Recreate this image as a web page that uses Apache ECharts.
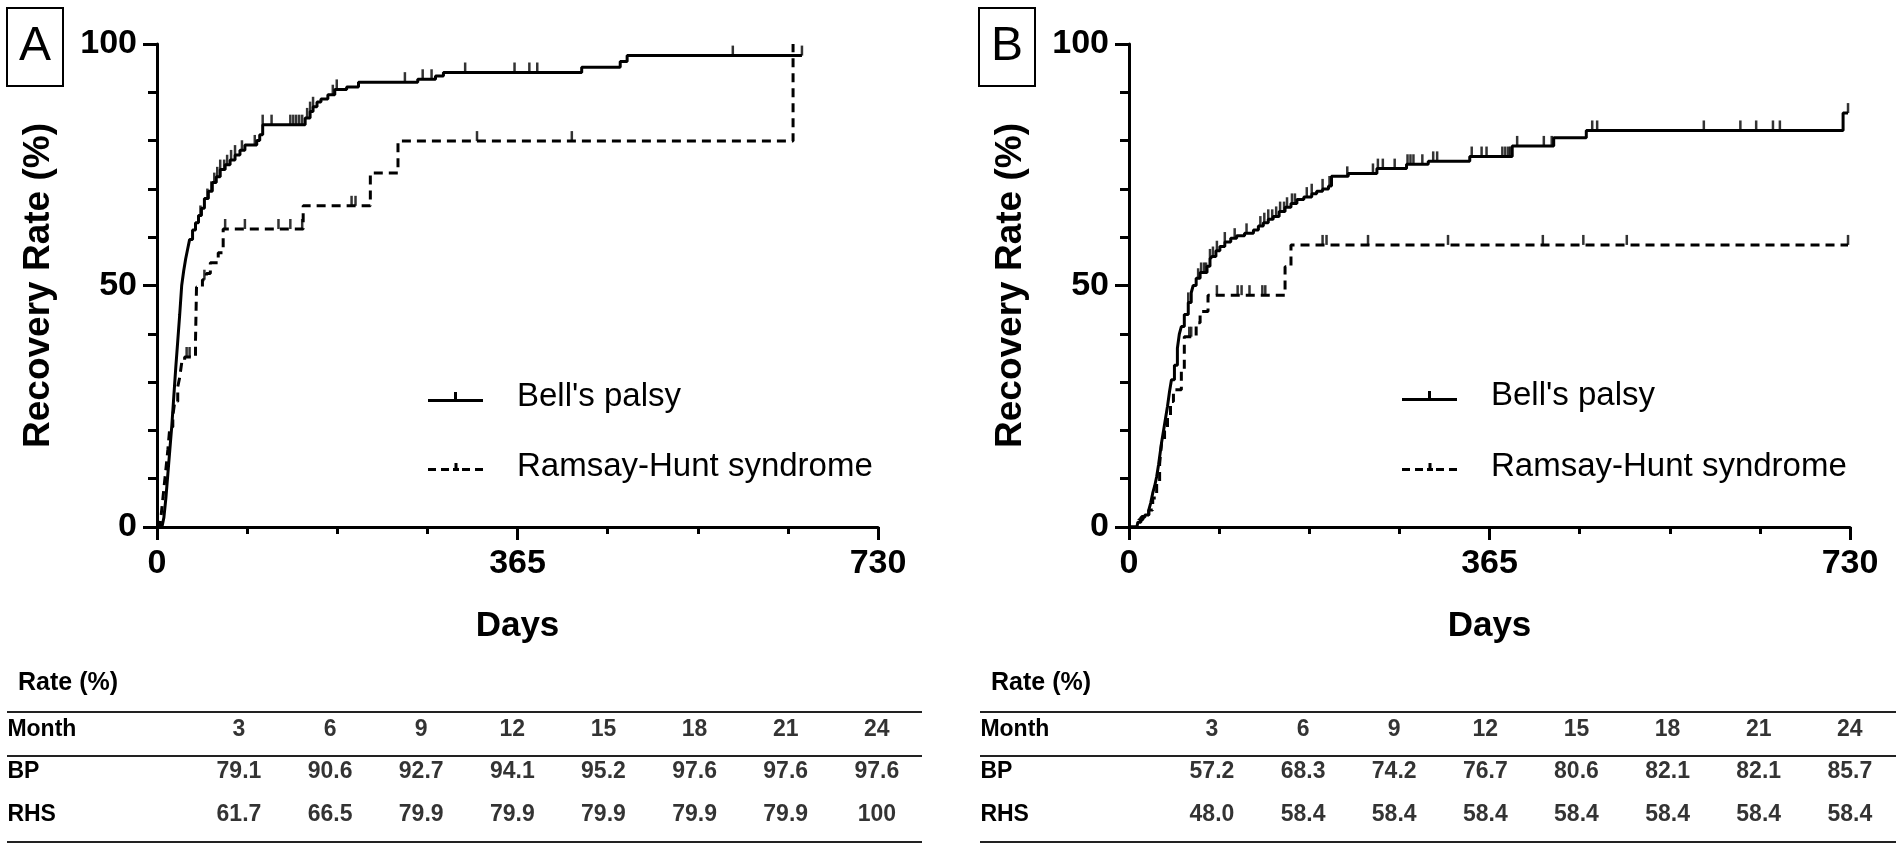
<!DOCTYPE html>
<html>
<head>
<meta charset="utf-8">
<title>Recovery Rate</title>
<script src="https://cdn.jsdelivr.net/npm/echarts@6/dist/echarts.min.js"></script>
<style>
    html, body { margin: 0; padding: 0; background: #fff; }
    #main { width: 1902px; height: 849px; }
</style>
</head>
<body>
<div id="main"></div>
<script>
// 曲线数据 [day, rate]，step 折线
var bpA = [[0, 0], [5, 0], [7, 2], [9, 6], [11, 11], [13, 16], [15, 21], [17, 27], [19, 33], [21, 38.5], [23, 44], [25, 50],
    [27, 53], [29, 55.5], [31, 57.5], [33, 59.5], [36, 61.5], [39, 63], [42, 64.5], [45, 66], [48, 68], [52, 69.5], [56, 71.3],
    [60, 72.5], [64, 74], [69, 75], [74, 76], [79, 77], [84, 78], [89, 79.1], [101, 80], [104, 81.2], [107, 83.3], [150, 84.7],
    [155, 86], [158, 87], [162, 88], [166, 88.6], [173, 89.5], [180, 90.6], [192, 91.1], [204, 92.1], [264, 92.7], [282, 93.4],
    [290, 94.1], [430, 95.2], [469, 96.4], [476, 97.6], [653, 97.6]];
var rhsA = [[0, 0], [3, 0], [5, 4], [7, 8], [9, 12], [11, 16], [13, 20.7], [16, 23], [18, 26], [21, 29], [23, 31], [25, 34],
    [28, 35.2], [39, 38.7], [40, 49.7], [46, 51.2], [50, 52.5], [54, 54.7], [62, 56.8], [67, 61.7], [148, 66.5], [216, 73.3],
    [244, 79.9], [644, 100]];
var bpB = [[0, 0], [8, 0], [9, 1], [12, 2], [16, 2.5], [20, 3.5], [22, 5], [24, 7], [26, 8.5], [28, 10.4], [30, 13], [31, 14.5],
    [33, 17.5], [35, 20], [37, 22.5], [39, 25], [41, 28], [43, 30.5], [46, 33.5], [49, 37], [51, 40], [53, 41.5], [56, 44],
    [60, 46.5], [63, 48.5], [65, 50], [68, 51.5], [72, 52.7], [79, 54], [82, 55.5], [84, 56], [88, 57.2], [92, 58.1], [97, 59],
    [103, 59.8], [109, 60.3], [117, 60.8], [126, 61.5], [131, 62.3], [136, 63], [141, 63.7], [146, 64.3], [152, 65.3],
    [158, 66.2], [164, 67], [170, 67.8], [177, 68.3], [185, 69], [190, 69.5], [196, 70], [202, 70.6], [205, 72.6], [222, 73.2],
    [251, 74.2], [281, 75.1], [303, 75.7], [345, 76.7], [388, 78.9], [430, 80.6], [463, 82.1], [723, 85.7], [728, 85.7]];
var rhsB = [[0, 0], [8, 0], [10, 1.5], [14, 2.5], [20, 3.5], [24, 6], [28, 9.5], [31, 13], [33, 17.4], [36, 20], [39, 23],
    [42, 26], [45, 28.4], [53, 32.6], [56, 39.4], [68, 42.3], [72, 44.6], [80, 48.0], [158, 53.9], [164, 58.4], [728, 58.4]];

// 删失点（天）
var bpACensor = [44, 51, 55, 58, 61, 64, 68, 71, 75, 79, 86, 99, 107, 116, 135, 138, 141, 144, 147, 152, 155, 158, 178, 182,
    251, 269, 278, 312, 362, 377, 385, 583, 653];
var rhsACensor = [30, 33, 48, 69, 89, 123, 135, 147, 197, 201, 324, 420];
var bpBCensor = [60, 70, 73, 76, 78, 82, 85, 89, 97, 107, 119, 133, 137, 141, 145, 149, 153, 157, 160, 165, 168, 180, 185,
    196, 203, 221, 247, 252, 257, 269, 282, 285, 288, 297, 308, 312, 347, 357, 362, 378, 381, 384, 386, 393, 420, 428, 469,
    474, 582, 619, 635, 652, 659, 728];
var rhsBCensor = [61, 63, 89, 110, 114, 122, 135, 138, 196, 200, 242, 323, 419, 460, 504, 728];

// 表格
var months = ['3', '6', '9', '12', '15', '18', '21', '24'];
var rowNames = ['Month', 'BP', 'RHS'];
var tableA_BP = ['79.1', '90.6', '92.7', '94.1', '95.2', '97.6', '97.6', '97.6'];
var tableA_RHS = ['61.7', '66.5', '79.9', '79.9', '79.9', '79.9', '79.9', '100'];
var tableB_BP = ['57.2', '68.3', '74.2', '76.7', '80.6', '82.1', '82.1', '85.7'];
var tableB_RHS = ['48.0', '58.4', '58.4', '58.4', '58.4', '58.4', '58.4', '58.4'];

var FONT = 'Liberation Sans, Arial, Helvetica, sans-serif';
var solidIcon = 'path://M0,7h55v3H0z M26,0h3v7h-3z';
var dashIcon = 'path://M0,5h8v3H0z M13,5h8v3h-8z M25,5h6v3h-6z M26.5,0h3v5h-3z M34,5h8v3h-8z M47,5h8v3h-8z';

// 取某天的阶梯值
function stepValueAt (steps, day) {
    var v = steps[0][1];
    for (var i = 0; i < steps.length; i++) {
        if (steps[i][0] <= day) v = steps[i][1];
        else break;
    }
    return v;
}

function censorPoints (steps, days) {
    return days.map(function (d) {
        return [d, stepValueAt(steps, d)];
    });
}

function kmLine (name, data, idx, dashed) {
    return {
        name: name,
        type: 'line',
        step: 'end',
        xAxisIndex: idx,
        yAxisIndex: idx,
        data: data,
        symbol: 'none',
        silent: true,
        lineStyle: { color: '#000', width: 3, type: dashed ? [9, 6] : 'solid' },
        itemStyle: { color: '#000' },
        z: 3
    };
}

function censorSeries (data, idx) {
    return {
        type: 'scatter',
        xAxisIndex: idx,
        yAxisIndex: idx,
        data: data,
        symbol: 'rect',
        symbolSize: [2.5, 10],
        symbolOffset: [0, -5],
        itemStyle: { color: '#000' },
        silent: true,
        z: 4
    };
}

function tableSeries (idx, bp, rhs) {
    var cells = [];
    var data = [];
    [months, bp, rhs].forEach(function (row, r) {
        row.forEach(function (text, c) {
            data.push([c, r]);
            cells.push(text);
        });
    });
    return {
        type: 'scatter',
        xAxisIndex: idx,
        yAxisIndex: idx,
        data: data,
        symbolSize: 1,
        itemStyle: { color: 'rgba(0,0,0,0)' },
        silent: true,
        label: {
            show: true,
            position: 'inside',
            formatter: function (p) { return cells[p.dataIndex]; },
            fontSize: 23,
            fontWeight: 'bold',
            color: '#000',
            fontFamily: FONT
        }
    };
}

function daysAxis (idx) {
    return {
        type: 'value',
        gridIndex: idx,
        min: 0,
        max: 730,
        interval: 365,
        name: 'Days',
        nameLocation: 'middle',
        nameGap: 82,
        nameTextStyle: { fontSize: 35, fontWeight: 'bold', color: '#000', fontFamily: FONT },
        axisLine: { show: true, onZero: false, lineStyle: { color: '#000', width: 3 } },
        axisTick: { show: true, length: 13, lineStyle: { color: '#000', width: 3 } },
        minorTick: { show: true, splitNumber: 4, length: 7, lineStyle: { color: '#000', width: 3 } },
        splitLine: { show: false },
        axisLabel: { fontSize: 34, fontWeight: 'bold', color: '#000', margin: 20, fontFamily: FONT }
    };
}

function rateAxis (idx) {
    return {
        type: 'value',
        gridIndex: idx,
        min: 0,
        max: 100,
        interval: 50,
        name: 'Recovery Rate (%)',
        nameLocation: 'middle',
        nameGap: 100,
        nameTextStyle: { fontSize: 37, fontWeight: 'bold', color: '#000', fontFamily: FONT },
        axisLine: { show: true, lineStyle: { color: '#000', width: 3 } },
        axisTick: { show: true, length: 14, lineStyle: { color: '#000', width: 3 } },
        minorTick: { show: true, splitNumber: 5, length: 9, lineStyle: { color: '#000', width: 3 } },
        splitLine: { show: false },
        axisLabel: { fontSize: 34, fontWeight: 'bold', color: '#000', margin: 20, fontFamily: FONT }
    };
}

function monthAxis (idx) {
    return { type: 'category', gridIndex: idx, data: months, show: false };
}

function rowAxis (idx) {
    return {
        type: 'category',
        gridIndex: idx,
        data: rowNames,
        inverse: true,
        axisLine: { show: false },
        axisTick: { show: false },
        axisLabel: { align: 'left', margin: 186, fontSize: 23, fontWeight: 'bold', color: '#000', fontFamily: FONT }
    };
}

function legendItem (name, icon, h, left, top) {
    return {
        orient: 'vertical',
        left: left,
        top: top,
        padding: 0,
        itemWidth: 55,
        itemHeight: h,
        selectedMode: false,
        data: [{ name: name, icon: icon }],
        itemStyle: { borderWidth: 0, color: '#000' },
        textStyle: { fontSize: 33, color: '#000', lineHeight: 34, padding: [8, 0, 0, 29], fontFamily: FONT }
    };
}

function panelTitle (text, left) {
    return {
        text: text,
        left: left,
        top: 8,
        padding: [15, 12],
        borderColor: '#000',
        borderWidth: 2,
        textStyle: { fontSize: 48, fontWeight: 'normal', color: '#000', lineHeight: 48, fontFamily: FONT }
    };
}

function rateTitle (left) {
    return {
        text: 'Rate (%)',
        left: left,
        top: 670,
        padding: 0,
        textStyle: { fontSize: 25, fontWeight: 'bold', color: '#000', lineHeight: 26, fontFamily: FONT }
    };
}

// 表格横线
function tableRules (x1, x2) {
    return [712, 756, 842].map(function (y) {
        return {
            type: 'line',
            shape: { x1: x1, y1: y, x2: x2, y2: y },
            style: { stroke: '#222', lineWidth: 2 },
            silent: true
        };
    });
}

function initChart () {
    var chart = echarts.init(document.getElementById('main'));
    var option = {
        animation: false,
        backgroundColor: '#fff',
        textStyle: { fontFamily: FONT },
        title: [panelTitle('A', 7), panelTitle('B', 979), rateTitle(18), rateTitle(991)],
        legend: [
            legendItem("Bell's palsy", solidIcon, 10, 428, 376),
            legendItem('Ramsay-Hunt syndrome', dashIcon, 8, 428, 446),
            legendItem("Bell's palsy", solidIcon, 10, 1402, 375),
            legendItem('Ramsay-Hunt syndrome', dashIcon, 8, 1402, 446)
        ],
        grid: [
            { left: 157, top: 44, width: 721, height: 483 },
            { left: 1129, top: 44, width: 721, height: 483 },
            { left: 193.4, top: 708, width: 729, height: 127.5 },
            { left: 1166.4, top: 708, width: 729, height: 127.5 }
        ],
        xAxis: [daysAxis(0), daysAxis(1), monthAxis(2), monthAxis(3)],
        yAxis: [rateAxis(0), rateAxis(1), rowAxis(2), rowAxis(3)],
        graphic: tableRules(7, 922).concat(tableRules(980, 1896)),
        series: [
            kmLine("Bell's palsy", bpA, 0, false),
            kmLine('Ramsay-Hunt syndrome', rhsA, 0, true),
            censorSeries(censorPoints(bpA, bpACensor), 0),
            censorSeries(censorPoints(rhsA, rhsACensor), 0),
            kmLine("Bell's palsy", bpB, 1, false),
            kmLine('Ramsay-Hunt syndrome', rhsB, 1, true),
            censorSeries(censorPoints(bpB, bpBCensor), 1),
            censorSeries(censorPoints(rhsB, rhsBCensor), 1),
            tableSeries(2, tableA_BP, tableA_RHS),
            tableSeries(3, tableB_BP, tableB_RHS)
        ]
    };
    chart.setOption(option);
    return chart;
}

var chart = initChart();
window.onresize = function () {
    chart.resize();
};
</script>
</body>
</html>
